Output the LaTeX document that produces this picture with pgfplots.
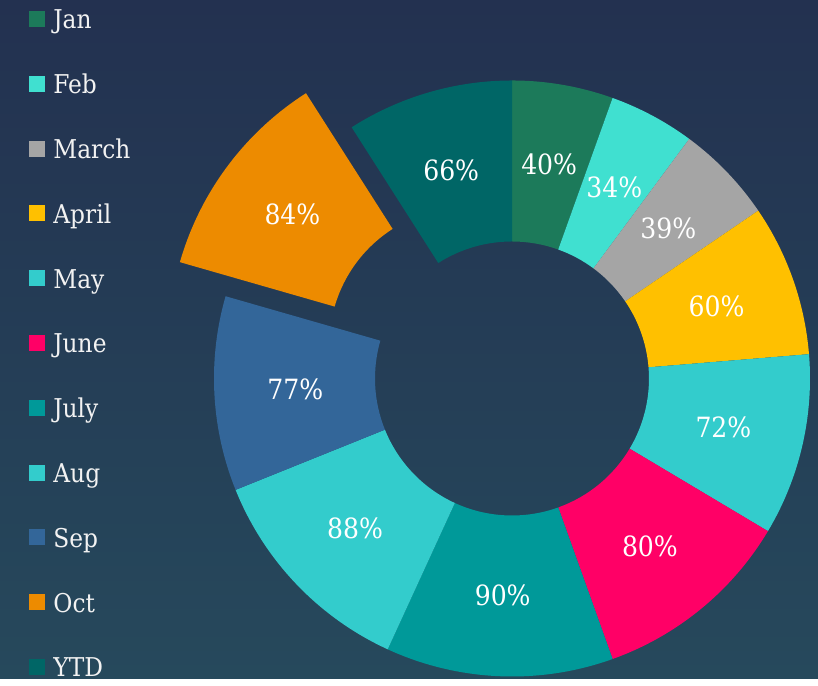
\documentclass[border=0pt]{standalone}
\usepackage{fontspec}
\setmainfont{DejaVu Serif Condensed}
\usepackage{pgfplots}
\usepackage{pgfplotstable}
\pgfplotsset{compat=1.18}

\definecolor{bgtop}{RGB}{35,49,80}
\definecolor{bgbot}{RGB}{38,73,92}
\definecolor{legtxt}{RGB}{242,242,242}
\definecolor{cJan}{RGB}{28,122,90}
\definecolor{cFeb}{RGB}{64,224,208}
\definecolor{cMar}{RGB}{165,165,165}
\definecolor{cApr}{RGB}{255,192,0}
\definecolor{cMay}{RGB}{51,204,204}
\definecolor{cJun}{RGB}{255,0,102}
\definecolor{cJul}{RGB}{0,153,153}
\definecolor{cAug}{RGB}{51,204,204}
\definecolor{cSep}{RGB}{51,102,153}
\definecolor{cOct}{RGB}{237,139,0}
\definecolor{cYTD}{RGB}{0,102,102}

% value in percent, colour, explode offset (px)
\pgfplotstableread{
name  v  col  ex
Jan   40 cJan 0
Feb   34 cFeb 0
March 39 cMar 0
April 60 cApr 0
May   72 cMay 0
June  80 cJun 0
July  90 cJul 0
Aug   88 cAug 0
Sep   77 cSep 0
Oct   84 cOct 57
YTD   66 cYTD 0
}\slices

\tikzset{
  lbl/.style={text=white, font=\fontsize{14}{16}\selectfont, anchor=center, inner sep=0pt},
  leg/.style={text=legtxt, font=\fontsize{13}{15}\selectfont, anchor=base west, inner sep=0pt},
}

\begin{document}
\begin{tikzpicture}
\begin{axis}[
    x=0.5bp, y=0.5bp,
    xmin=0, xmax=818, ymin=0, ymax=679,
    hide axis, scale only axis, clip=false,
]
\fill[top color=bgtop, bottom color=bgbot] (axis cs:0,0) rectangle (axis cs:818,679);

\def\total{0}
\pgfplotsforeachungrouped \i in {0,...,10}{%
  \pgfplotstablegetelem{\i}{v}\of\slices
  \pgfmathsetmacro\total{\total+\pgfplotsretval}%
}
\def\cum{0}
\pgfplotsforeachungrouped \i in {0,...,10}{%
  \pgfplotstablegetelem{\i}{v}\of\slices \let\val\pgfplotsretval
  \pgfplotstablegetelem{\i}{col}\of\slices \let\col\pgfplotsretval
  \pgfplotstablegetelem{\i}{ex}\of\slices \let\ex\pgfplotsretval
  \pgfplotstablegetelem{\i}{name}\of\slices \let\nm\pgfplotsretval
  \pgfmathsetmacro\aS{90-\cum/\total*360}%
  \pgfmathsetmacro\cum{\cum+\val}%
  \pgfmathsetmacro\aE{90-\cum/\total*360}%
  \pgfmathsetmacro\aM{(\aS+\aE)/2}%
  \pgfmathsetmacro\ey{679-(19+64.8*\i)}%
  \edef\temp{%
    \noexpand\fill[\col, shift={(axis cs:512,300.5)}, shift={(\aM:\ex*0.5bp)}]
      (\aS:149bp) arc[start angle=\aS, end angle=\aE, radius=149bp]
      -- (\aE:68.5bp) arc[start angle=\aE, end angle=\aS, radius=68.5bp] -- cycle
      (\aM:108.5bp) node[lbl] {\val\noexpand\%};
    \noexpand\fill[\col] (axis cs:29,\ey-8) rectangle (axis cs:45,\ey+8);
    \noexpand\node[leg] at (axis cs:53,\ey-10) {\nm};
  }%
  \temp
}
\end{axis}
\end{tikzpicture}
\end{document}
